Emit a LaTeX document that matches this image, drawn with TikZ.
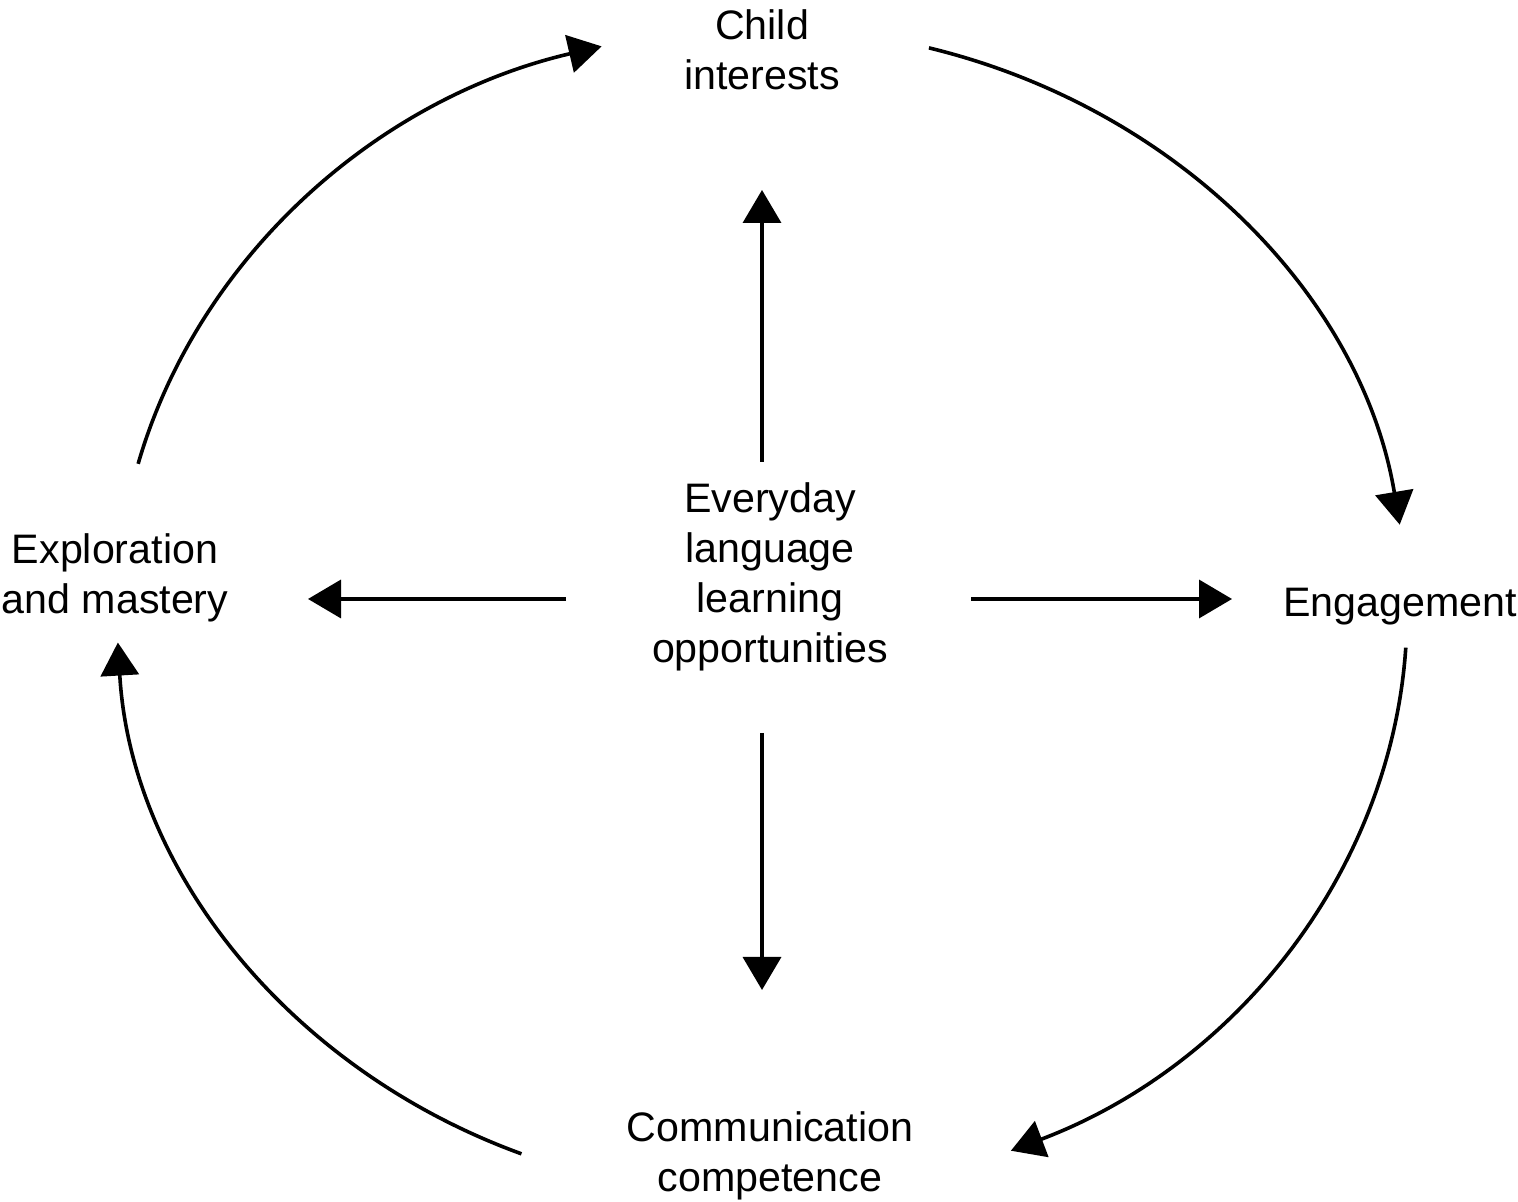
\documentclass[tikz,border=0pt]{standalone}
\usepackage{fontspec}
\setmainfont{Liberation Sans}
\usetikzlibrary{arrows.meta}
\begin{document}
\begin{tikzpicture}[x=0.5pt,y=0.5pt,
  lbl/.style={font=\fontsize{20.6pt}{25pt}\selectfont, align=center, inner sep=0pt},
  conn/.style={line width=1.8pt, -{Triangle[length=16.5pt,width=19pt]}}]
\useasboundingbox (0,0) rectangle (1518,1202);
% labels
\node[lbl] (child) at (762,1152) {Child\\interests};
\node[lbl] (center) at (770,625) {Everyday\\language\\learning\\opportunities};
\node[lbl] (explore) at (115,624) {Exploration\\and mastery};
\node[lbl] (engage) at (1400,595) {Engagement};
\node[lbl] (comm) at (770,46) {Communication\\competence};
% straight arrow ends
\coordinate (su) at (762,740);  \coordinate (tu) at (762,1012);
\coordinate (sd) at (762,469);  \coordinate (td) at (762,212);
\coordinate (sl) at (566,603);  \coordinate (tl) at (308,603);
\coordinate (sr) at (971,603);  \coordinate (tr) at (1232,603);
\draw[conn] (su) -- (tu);
\draw[conn] (sd) -- (td);
\draw[conn] (sl) -- (tl);
\draw[conn] (sr) -- (tr);
% cycle arcs
\coordinate (ell) at (762,590);
\draw[conn] ([shift={(165.3:645 and 584)}]ell) arc[start angle=165.3, end angle=104.4, x radius=645, y radius=584];
\draw[conn] ([shift={(75.0:645 and 584)}]ell) arc[start angle=75.0, end angle=8.6, x radius=645, y radius=584];
\draw[conn] ([shift={(-3.5:645 and 584)}]ell) arc[start angle=-3.5, end angle=-67.3, x radius=645, y radius=584];
\draw[conn] ([shift={(-111.9:645 and 584)}]ell) arc[start angle=-111.9, end angle=-177, x radius=645, y radius=584];
\end{tikzpicture}
\end{document}
